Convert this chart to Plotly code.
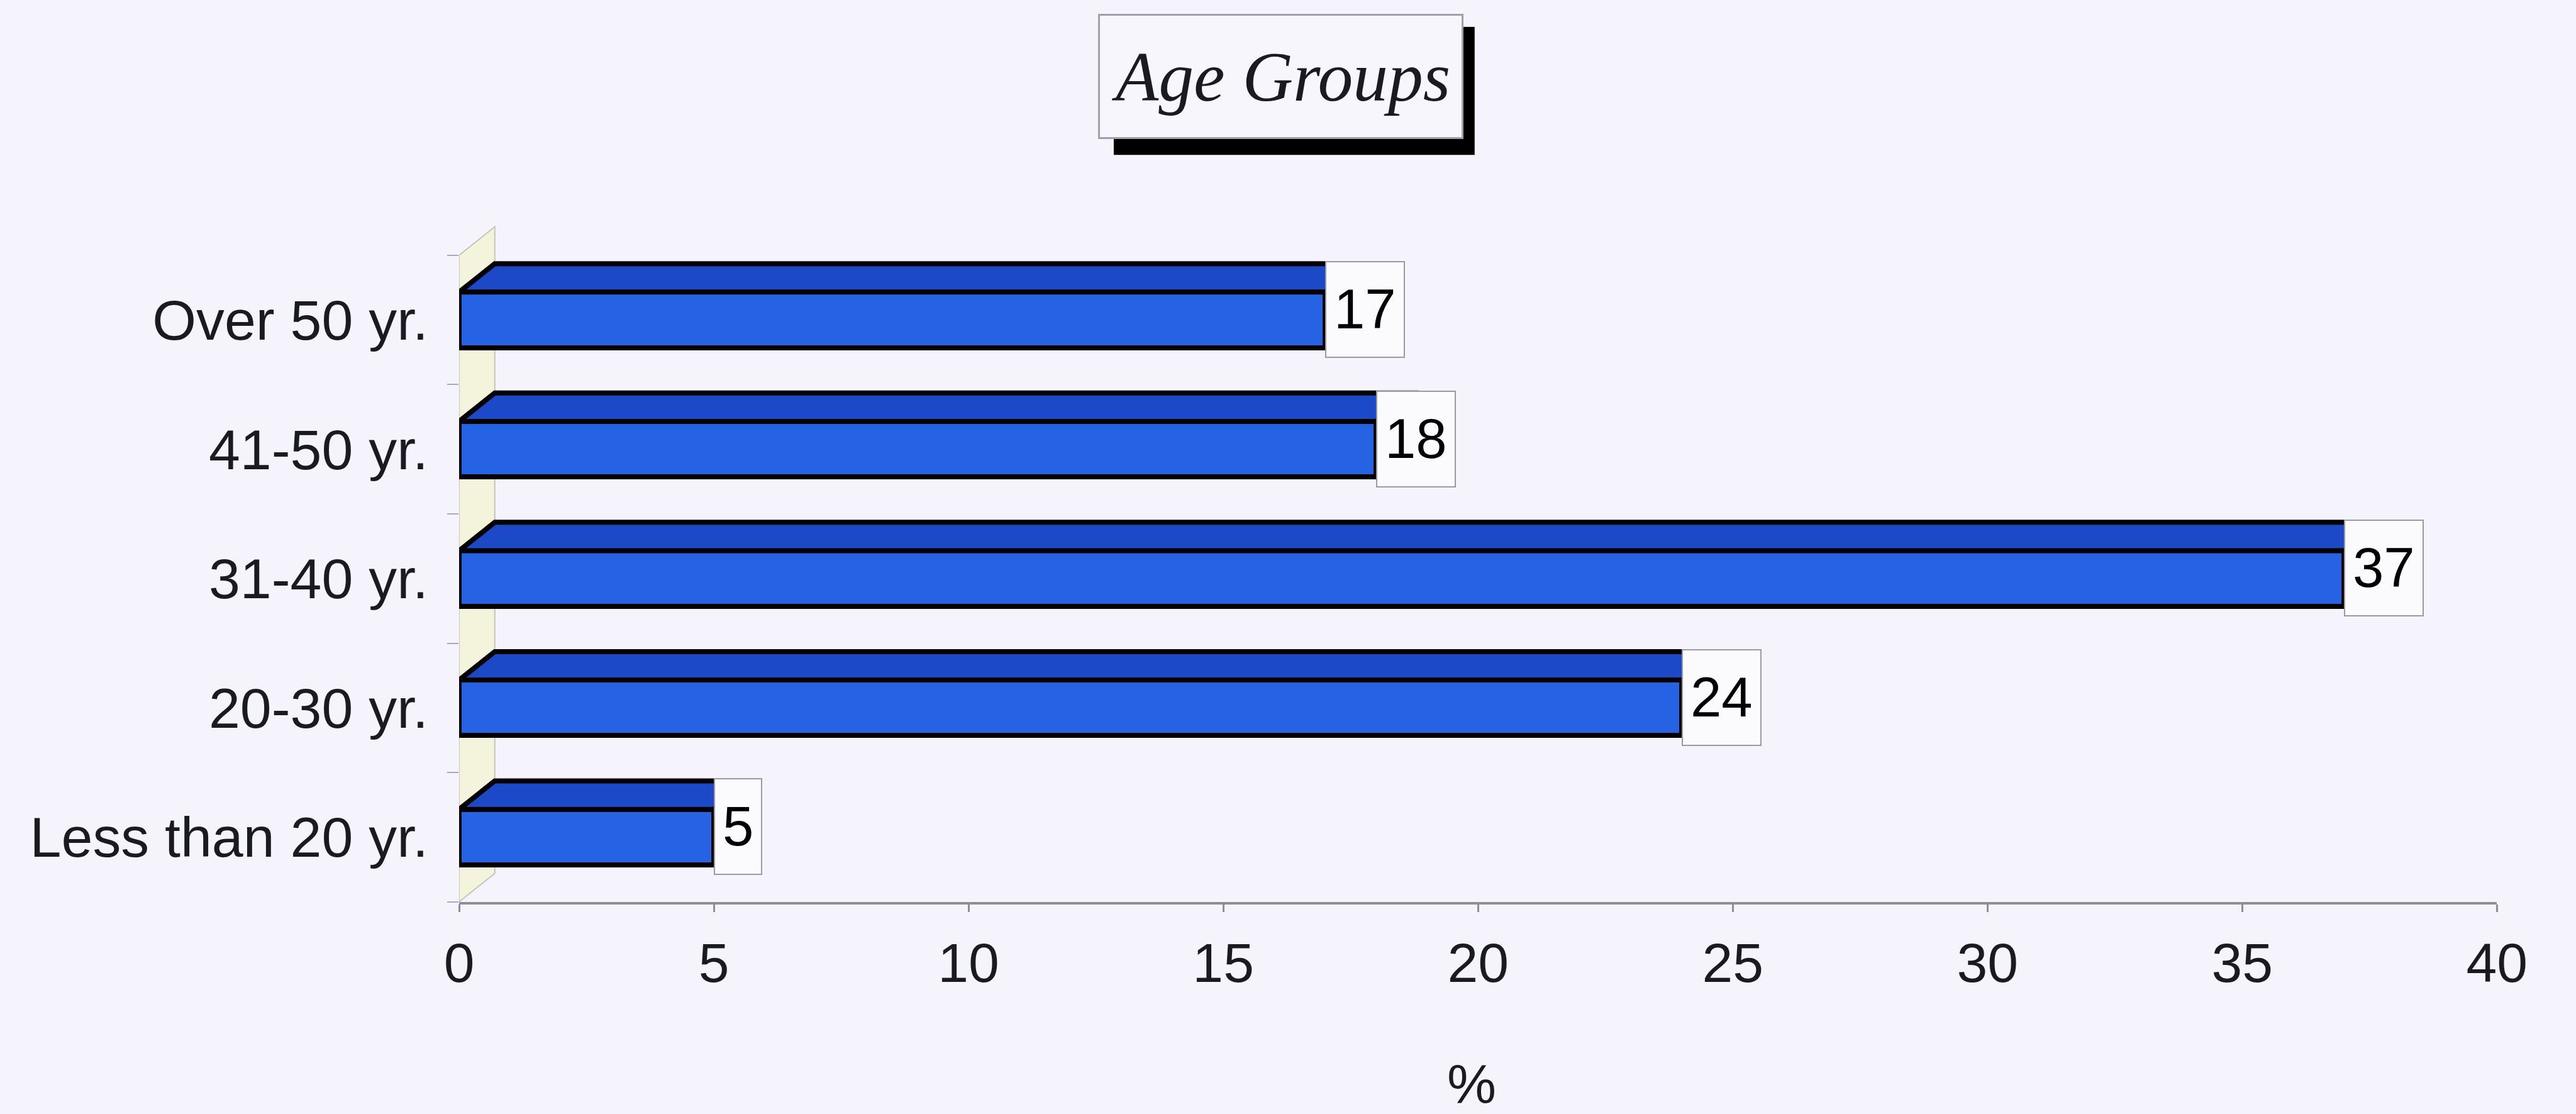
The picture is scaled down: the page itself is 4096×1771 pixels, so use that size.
import plotly.graph_objects as go

# ---- data ----
categories = ["Less than 20 yr.", "20-30 yr.", "31-40 yr.", "41-50 yr.", "Over 50 yr."]
values = [5, 24, 37, 18, 17]
x_ticks = [0, 5, 10, 15, 20, 25, 30, 35, 40]
title_text = "Age Groups"
x_title = "%"

# ---- geometry / style ----
S = 0.997
W, H = 4096, 1771
def px(x):
    return x * S / W
def py(y):
    return 1 - y * S / H

BG = "#F5F4FC"
FRONT = "#2662E4"
TOP = "#1C49C8"
WALL = "#F4F4DC"
GRAY = "#8E8E98"
FONT = "Liberation Sans"

bar_w = 0.43
dx = 0.70   # depth offset in x units
dy = 0.22   # depth offset in category units
ypos = list(range(len(categories)))
LW = 8

fig = go.Figure()
fig.add_trace(go.Bar(
    x=values, y=ypos, orientation="h", width=bar_w,
    marker=dict(color=FRONT, line=dict(color="black", width=LW)),
    hoverinfo="x+y", showlegend=False,
))

shapes = []
# left wall
shapes.append(dict(
    type="path", xref="x", yref="y", layer="below",
    path=f"M 0,-0.5 L 0,{len(categories)-0.5} L {dx},{len(categories)-0.5+dy} L {dx},{-0.5+dy} Z",
    fillcolor=WALL, line=dict(color="#C4C4BC", width=2),
))
for i, v in enumerate(values):
    yt = i + bar_w / 2
    # top face (right end hidden under the value box)
    shapes.append(dict(
        type="path", xref="x", yref="y", layer="above",
        path=f"M 0,{yt} L {v},{yt} L {v+dx},{yt+dy} L {dx},{yt+dy} Z",
        fillcolor=TOP, line=dict(color="black", width=LW),
    ))
# title shadow
shapes.append(dict(
    type="rect", xref="paper", yref="paper", layer="above",
    x0=px(1784), x1=px(2370), y0=py(247), y1=py(43),
    fillcolor="black", line=dict(width=0),
))

annotations = []
for i, v in enumerate(values):
    annotations.append(dict(
        x=v, y=i + 0.08, xref="x", yref="y", xanchor="left", yanchor="middle",
        text=str(v), showarrow=False,
        font=dict(family=FONT, size=89 * S, color="black"),
        bgcolor="#FBFBFE", bordercolor="#9A9AA5", borderwidth=2,
        borderpad=12 * S, height=126 * S,
    ))
annotations.append(dict(
    x=px((1764 + 2347) / 2), y=py(122), xref="paper", yref="paper",
    xanchor="center", yanchor="middle", showarrow=False,
    text=f"<i>{title_text}</i>",
    font=dict(family="Liberation Serif", size=112 * S, color="#1A1A22"),
    width=577 * S, height=194 * S, borderpad=0,
    bgcolor="#F7F6FC", bordercolor="#A0A0A8", borderwidth=3,
))
annotations.append(dict(
    x=px(2365), y=py(1728), xref="paper", yref="paper",
    xanchor="center", yanchor="middle", showarrow=False,
    text=x_title, font=dict(family=FONT, size=88 * S, color="#1A1A22"),
))

fig.update_layout(
    width=W, height=H,
    margin=dict(l=0, r=0, t=0, b=0),
    paper_bgcolor=BG, plot_bgcolor=BG,
    shapes=shapes, annotations=annotations,
    bargap=0, showlegend=False,
    xaxis=dict(
        domain=[px(721), px(4030)], range=[0, 40],
        tickvals=x_ticks, ticktext=[str(t) for t in x_ticks],
        ticks="outside", ticklen=12 * S, tickwidth=3, tickcolor=GRAY,
        showline=True, linecolor=GRAY, linewidth=4,
        showgrid=False, zeroline=False,
        tickfont=dict(family=FONT, size=88 * S, color="#1A1A22"),
        ticklabelstandoff=6,
        anchor="y",
    ),
    yaxis=dict(
        domain=[py(1438), py(1438 - 5.3 * 206.2)], range=[-0.5, 4.8],
        tickvals=ypos, ticktext=categories, ticks="",
        minor=dict(ticks="outside", tickmode="array",
                   tickvals=[-0.5, 0.5, 1.5, 2.5, 3.5, 4.5],
                   ticklen=18 * S, tickwidth=2, tickcolor="#A8A8C0", showgrid=False),
        showline=False, showgrid=False, zeroline=False,
        tickfont=dict(family=FONT, size=90 * S, color="#1A1A22"),
        ticklabelstandoff=48,
        anchor="x",
    ),
)

fig.write_html("out.html")
